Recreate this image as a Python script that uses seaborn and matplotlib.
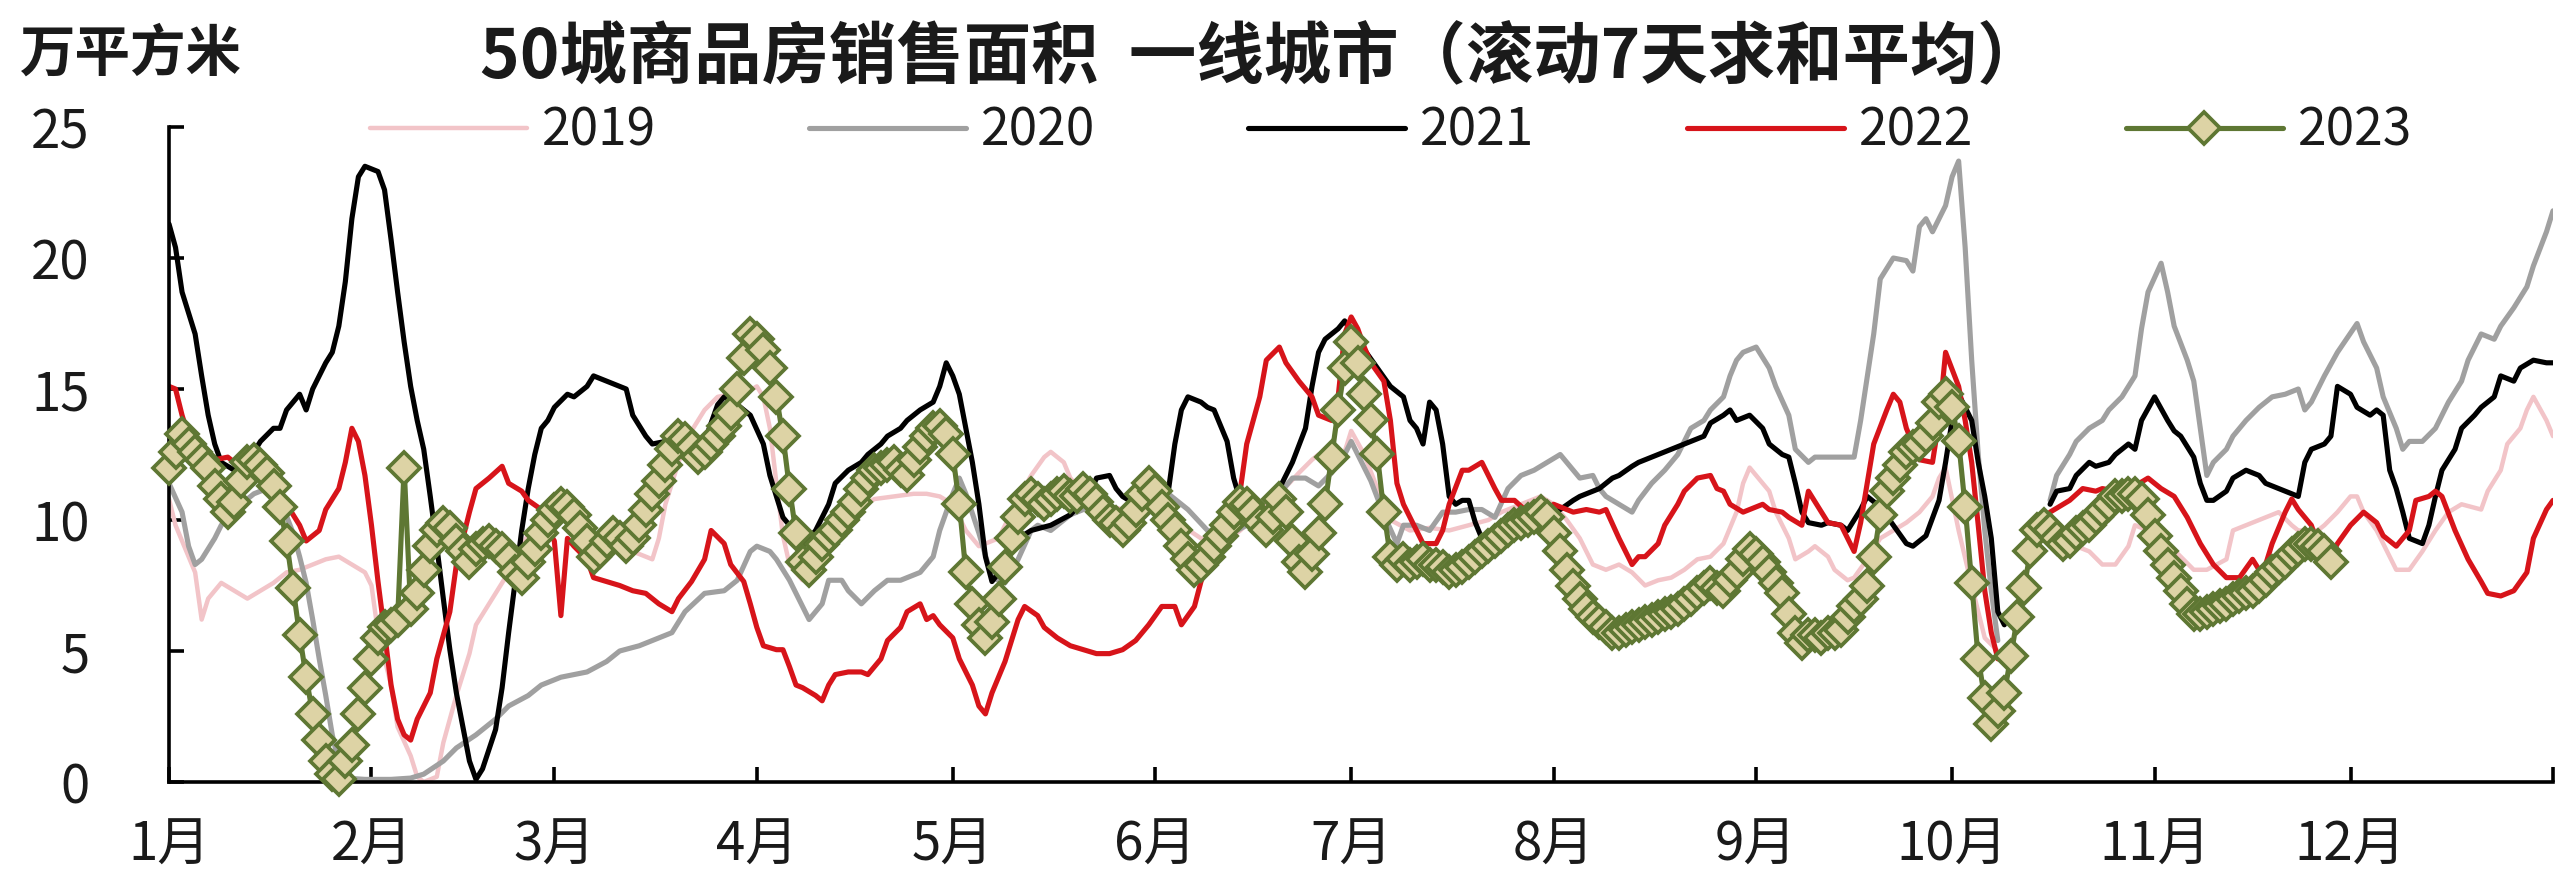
import numpy as np
import pandas as pd
import matplotlib
matplotlib.use("Agg")
import matplotlib.pyplot as plt
import seaborn as sns
from matplotlib.lines import Line2D

# ---------------- data (day of year, 0 = Jan 1) ----------------
GAP = np.nan

days_2019 = [0, 1, 4, 5, 6, 8, 10, 12, 14, 16, 18, 20, 22, 24, 26, 28, 30, 31, 32, 34, 35, 37, 38, 39, 41, 42, 44, 46, 47, 49,
             50, 52, 54, 56, 58, 60, 62, 64, 66, 68, 70, 72, 74, 75, 76, 78, 80, 82, 84, 86, 88, 90, 91, 92, 93, 94, 95, 97, 98,
             100, 102, 104, 106, 108, 111, 114, 116, 118, 120, 122, 124, 127, 130, 132, 134, 135, 137, 138, 140, 143, 146, 149,
             152, 155, 158, 161, 164, 167, 170, 173, 175, 176, 178, 180, 181, 183, 185, 187, 190, 193, 196, 199, 202, 204, 208,
             210, 212, 214, 216, 218, 220, 222, 224, 226, 228, 230, 232, 234, 236, 238, 240, 241, 242, 243, 245, 246, 248, 249,
             251, 252, 254, 255, 257, 258, 260, 262, 264, 266, 268, 270, 271, 272, 274, 276, 278, 280, 284,
             288, 290, 292, 294, 296, 298, 300, 301, 303, 306, 308, 310, 312, 315, 316, 318, 319, 321, 323, 325, 326, 329, 330,
             332, 334, 335, 336, 338, 340, 341, 343, 345, 347, 349, 351, 354, 355, 357, 358, 360, 361, 362, 364, 365]
vals_2019 = [10.8, 9.8, 8.0, 6.2, 7.0, 7.6, 7.3, 7.0, 7.3, 7.6, 8.0, 8.1, 8.3, 8.5, 8.6, 8.3, 8.0, 7.5, 5.7, 3.7, 2.1, 1.0, 0.2, 0.0, 0.2, 1.5, 3.3, 4.9, 6.0, 6.8,
             7.2, 8.0, 9.0, 9.9, 10.2, 10.3, 10.0, 9.5, 9.2, 9.0, 8.9, 8.7, 8.5, 9.3, 10.6, 12.2, 13.4, 14.2, 14.7, 14.8, 14.8, 15.1, 14.7, 13.5, 11.4, 9.4, 8.3, 7.7, 8.1,
             8.8, 9.4, 10.0, 10.5, 10.8, 10.9, 11.0, 11.0, 10.9, 10.6, 9.6, 9.0, 9.3, 10.8, 11.7, 12.4, 12.6, 12.2, 11.6, 11.0, 10.6, 10.4, 10.5,
             10.3, 9.8, 9.3, 9.0, 9.6, 10.3, 11.0, 11.8, 12.3, 12.5, 12.0, 12.6, 13.4, 12.5, 11.2, 10.0, 9.6, 9.7, 9.6, 9.8, 10.0, 10.3, 10.7,
             10.9, 10.6, 10.0, 9.3, 8.3, 8.1, 8.3, 8.0, 7.5, 7.7, 7.8, 8.1, 8.5, 8.6, 9.1, 10.3, 11.4, 12.0, 11.7, 11.1, 10.3, 9.3, 8.5,
             8.8, 9.0, 8.6, 8.1, 7.7, 7.8, 8.5, 9.3, 9.6, 9.9, 10.3, 10.9, 11.6, 12.0, 9.6, 7.5, 5.5, 5.0, GAP,
             9.0, 9.3, 9.0, 8.8, 8.3, 8.3, 9.0, 9.8, 9.6, 9.1, 8.6, 8.1, 8.1, 8.5, 9.6, 9.8, 9.9, 10.1, 10.3, 9.8, 9.6, 9.6, 9.8,
             10.3, 10.9, 10.9, 10.3, 9.6, 8.6, 8.1, 8.1, 8.8, 9.6, 10.3, 10.6, 10.4, 11.1, 11.9, 12.9, 13.5, 14.2, 14.7, 13.8, 13.2]

days_2020 = [0, 2, 3, 4, 5, 7, 8, 9, 11, 13, 15, 17, 19, 20, 21, 22, 23, 24, 25, 26, 27, 30, 34, 37, 39, 42, 44, 47, 50, 52,
             55, 57, 60, 62, 64, 67, 69, 72, 74, 77, 79, 82, 85, 87, 89, 90, 92, 93, 95, 97, 98, 100, 101, 103, 104, 106, 108,
             110, 112, 115, 117, 118, 120, 121, 122, 124, 126, 128, 130, 132, 133, 135, 138, 141, 144, 147, 150, 153, 156, 159,
             162, 165, 168, 170, 172, 174, 176, 178, 180, 181, 182, 184, 186, 188, 189, 191, 193, 195, 197, 199, 201, 203, 205,
             207, 209, 211, 213, 215, 216, 218, 219, 220, 222, 224, 225, 227, 229, 231, 233, 235, 236, 238, 239, 240, 241, 243,
             245, 246, 248, 249, 251, 252, 254, 256, 258, 259, 261, 262, 264, 266, 267, 268, 269, 270, 272, 273, 274, 275, 276,
             277, 278, 279, 280, 284,
             288, 289, 291, 292, 294, 296, 297, 299, 300, 301, 302, 303, 305, 306, 307, 309, 310, 311, 312, 313, 315, 316, 318,
             320, 322, 324, 326, 327, 328, 330, 332, 335, 336, 338, 339, 341, 342, 343, 345, 347, 349, 351, 352, 354, 356, 357,
             359, 361, 362, 364, 365]
vals_2020 = [11.4, 10.3, 9.0, 8.3, 8.5, 9.3, 9.8, 10.1, 10.6, 11.0, 11.2, 10.8, 9.5, 8.6, 7.6, 6.2, 4.7, 3.3, 1.8, 0.7, 0.15, 0.1, 0.1, 0.15, 0.3, 0.8, 1.3, 1.8, 2.4, 2.9,
             3.3, 3.7, 4.0, 4.1, 4.2, 4.6, 5.0, 5.2, 5.4, 5.7, 6.5, 7.2, 7.3, 7.7, 8.8, 9.0, 8.8, 8.5, 7.7, 6.7, 6.2, 6.8, 7.7, 7.7, 7.3, 6.8, 7.3,
             7.7, 7.7, 8.0, 8.6, 9.6, 11.0, 11.6, 11.0, 9.5, 7.8, 7.6, 8.5, 9.6, 9.8, 9.6, 10.2, 10.5, 10.1, 10.3, 11.1, 11.0, 10.4, 9.6,
             9.4, 9.8, 10.3, 11.0, 11.6, 11.6, 11.3, 11.8, 12.5, 13.0, 12.5, 11.5, 10.2, 9.1, 9.8, 9.8, 9.6, 10.3, 10.3, 10.4, 10.4, 10.1, 11.2,
             11.7, 11.9, 12.2, 12.5, 11.9, 11.6, 11.7, 11.2, 10.9, 10.6, 10.3, 10.75, 11.4, 11.9, 12.5, 13.5, 13.8, 14.2, 14.7, 15.5, 16.1, 16.4, 16.6,
             15.8, 15.1, 14.0, 12.7, 12.2, 12.4, 12.4, 12.4, 12.4, 13.8, 17.1, 19.2, 20.0, 19.9, 19.5, 21.2, 21.5, 21.0, 22.0, 23.1, 23.7, 20.4, 16.1,
             12.5, 9.6, 7.3, 5.4, GAP,
             10.75, 11.7, 12.5, 13.0, 13.5, 13.8, 14.2, 14.7, 15.1, 15.5, 17.3, 18.7, 19.8, 18.7, 17.4, 16.1, 15.3, 13.5, 11.7, 12.2, 12.7, 13.2, 13.8,
             14.3, 14.7, 14.8, 15.0, 14.2, 14.5, 15.5, 16.4, 17.5, 16.8, 15.8, 14.7, 13.5, 12.7, 13.0, 13.0, 13.5, 14.5, 15.3, 16.1, 17.1, 16.9, 17.4,
             18.1, 18.9, 19.7, 21.0, 21.8]

days_2021 = [0, 1, 2, 4, 5, 6, 7, 8, 10, 12, 14, 16, 17, 18, 20, 21, 22, 24, 25, 26, 27, 28, 29, 30, 32, 33, 34, 35, 36, 37,
             38, 39, 40, 41, 42, 43, 44, 45, 46, 47, 48, 50, 51, 52, 53, 54, 55, 56, 57, 58, 59, 61, 62, 64, 65, 67, 68, 70, 71,
             73, 74, 76, 78, 80, 82, 83, 84, 85, 87, 89, 91, 92, 93, 94, 95, 97, 99, 101, 102, 104, 106, 107, 109, 110, 112, 113,
             115, 117, 118, 119, 120, 121, 122, 123, 124, 125, 126, 128, 130, 132, 135, 138, 141, 142, 144, 145, 146, 147, 149,
             151, 153, 154, 155, 156, 158, 159, 160, 162, 163, 164, 166, 168, 170, 172, 174, 175, 176, 177, 179, 180, 181, 183,
             185, 187, 189, 190, 191, 192, 193, 194, 195, 196, 197, 198, 199, 200, 201, 203, 205, 207, 209, 211, 213, 215, 216,
             218, 219, 221, 222, 224, 225, 227, 228, 230, 232, 233, 235, 236, 238, 239, 240, 242, 244, 245, 247, 248, 249, 250,
             251, 253, 254, 256, 257, 259, 260, 262, 264, 266, 267, 269, 271, 272, 273, 274, 276, 277, 278, 279, 280, 281, 284,
             288, 289, 291, 292, 294, 295, 297, 298, 300, 301, 302, 304, 306, 307, 308, 310, 311, 312, 313, 315, 316, 318, 320,
             321, 323, 325, 326, 327, 328, 330, 331, 332, 334, 335, 337, 338, 339, 340, 341, 342, 343, 344, 345, 346, 347, 348,
             350, 351, 353, 354, 356, 357, 359, 360, 362, 364, 365]
vals_2021 = [21.3, 20.4, 18.7, 17.1, 15.5, 14.0, 12.9, 12.2, 11.9, 12.2, 13.0, 13.5, 13.5, 14.2, 14.8, 14.2, 15.0, 16.0, 16.4, 17.4, 19.1, 21.5, 23.1, 23.5, 23.3, 22.6, 20.7, 18.7, 16.8, 15.1,
             13.8, 12.7, 10.9, 9.0, 7.0, 5.05, 3.4, 2.1, 0.8, 0.1, 0.5, 2.0, 3.6, 5.7, 7.65, 9.6, 11.2, 12.5, 13.5, 13.8, 14.3, 14.8, 14.7, 15.1, 15.5, 15.3, 15.2, 15.0, 14.0,
             13.2, 12.9, 13.0, 12.8, 12.6, 13.0, 13.7, 14.4, 14.7, 14.4, 14.0, 12.9, 11.7, 10.9, 10.1, 9.8, 9.0, 9.6, 10.6, 11.4, 11.9, 12.2, 12.5, 12.9, 13.2, 13.5, 13.8,
             14.2, 14.5, 15.1, 16.0, 15.5, 14.8, 13.5, 12.2, 10.6, 8.6, 7.65, 8.3, 9.3, 9.6, 9.8, 10.2, 11.0, 11.6, 11.7, 11.2, 10.9, 10.75, 10.5,
             10.6, 11.1, 12.9, 14.2, 14.7, 14.5, 14.3, 14.2, 13.0, 11.6, 10.75, 10.5, 10.3, 11.2, 12.2, 13.5, 15.1, 16.4, 16.9, 17.3, 17.6, 17.2, 16.5,
             15.8, 15.1, 14.7, 13.8, 13.5, 12.9, 14.5, 14.2, 12.9, 10.9, 10.6, 10.75, 10.75, 9.9, 9.3, 9.2, 9.4, 9.7, 9.9, 10.1, 10.4, 10.75, 10.9,
             11.1, 11.2, 11.6, 11.7, 12.05, 12.2, 12.4, 12.5, 12.7, 12.9, 13.0, 13.2, 13.7, 14.0, 14.2, 13.8, 14.0, 13.5, 12.9, 12.5, 12.4, 11.4, 10.3,
             9.9, 9.8, 9.9, 9.8, 9.6, 10.4, 10.9, 10.5, 9.8, 9.1, 9.0, 9.4, 10.75, 12.2, 13.8, 14.8, 13.8, 12.2, 10.9, 9.3, 6.5, 6.0, GAP,
             10.6, 11.1, 11.2, 11.7, 12.2, 12.05, 12.2, 12.5, 12.9, 12.7, 13.8, 14.7, 13.8, 13.4, 13.2, 12.4, 11.4, 10.75, 10.75, 11.1, 11.6, 11.9, 11.7,
             11.4, 11.2, 11.0, 10.9, 12.2, 12.7, 12.9, 13.2, 15.1, 14.8, 14.3, 14.0, 14.2, 14.0, 11.9, 11.2, 10.3, 9.3, 9.2, 9.1, 9.8, 10.9, 11.9,
             12.7, 13.5, 14.0, 14.3, 14.7, 15.5, 15.3, 15.8, 16.1, 16.0, 16.0]

days_2022 = [0, 1, 2, 3, 5, 7, 9, 10, 12, 14, 16, 18, 20, 21, 23, 24, 26, 27, 28, 29, 30, 31, 32, 33, 34, 35, 36, 37, 38, 40,
             41, 43, 44, 46, 47, 49, 51, 52, 54, 55, 57, 58, 59, 60, 61, 62, 64, 65, 67, 69, 71, 73, 75, 77, 78, 80, 82, 83, 85,
             86, 88, 89, 90, 91, 93, 94, 95, 96, 97, 99, 100, 101, 102, 104, 106, 107, 109, 110, 112, 113, 115, 116, 117, 118,
             120, 121, 123, 124, 125, 126, 128, 130, 131, 133, 134, 136, 138, 140, 142, 144, 146, 148, 150, 152, 154, 155, 157,
             158, 160, 162, 164, 165, 167, 168, 170, 171, 173, 175, 176, 178, 179, 180, 181, 182, 183, 184, 186, 187, 188, 189,
             190, 191, 192, 194, 195, 196, 198, 199, 201, 203, 204, 206, 208, 209, 211, 212, 214, 215, 217, 219, 220, 222, 223,
             224, 225, 226, 228, 229, 231, 232, 234, 236, 237, 238, 239, 241, 242, 244, 245, 247, 248, 250, 251, 253, 254, 256,
             257, 258, 259, 260, 261, 263, 264, 265, 266, 268, 270, 271, 272, 274, 275, 276, 277, 278, 279, 280, 284,
             288, 290, 291, 293, 295, 296, 298, 299, 301, 303, 305, 307, 309, 311, 313, 315, 317, 319, 320, 321, 322, 324, 325,
             326, 328, 329, 331, 332, 334, 336, 338, 339, 341, 343, 344, 346, 347, 348, 350, 352, 354, 355, 357, 359, 361, 362,
             364, 365]
vals_2022 = [15.1, 15.0, 14.0, 13.2, 12.6, 12.3, 12.4, 12.2, 12.1, 12.0, 11.6, 10.6, 9.8, 9.2, 9.6, 10.4, 11.2, 12.2, 13.5, 13.0, 11.7, 9.8, 7.65, 5.7, 3.7, 2.4, 1.8, 1.6, 2.4, 3.4,
             4.7, 6.5, 8.3, 10.3, 11.2, 11.6, 12.05, 11.4, 11.1, 10.75, 10.4, 9.6, 9.2, 6.35, 9.3, 9.0, 8.5, 7.8, 7.65, 7.5, 7.3, 7.2, 6.8, 6.5, 7.0, 7.65, 8.5, 9.6, 9.1,
             8.3, 7.65, 6.8, 5.9, 5.2, 5.05, 5.05, 4.4, 3.7, 3.6, 3.3, 3.1, 3.7, 4.1, 4.2, 4.2, 4.1, 4.7, 5.4, 5.9, 6.5, 6.8, 6.2, 6.35, 6.0,
             5.5, 4.7, 3.7, 2.9, 2.6, 3.4, 4.6, 6.2, 6.7, 6.35, 5.9, 5.5, 5.2, 5.05, 4.9, 4.9, 5.05, 5.4, 6.0, 6.7, 6.7, 6.0, 6.7,
             7.65, 9.0, 10.6, 11.1, 12.9, 14.7, 16.1, 16.6, 16.0, 15.3, 14.7, 14.0, 13.8, 14.7, 17.1, 17.75, 17.3, 16.6, 16.0, 15.3, 13.8, 11.4, 10.6,
             10.1, 9.6, 9.1, 9.1, 9.6, 10.6, 11.9, 11.9, 12.2, 11.2, 10.75, 10.75, 10.3, 10.3, 10.4, 10.6, 10.4, 10.3, 10.4, 10.3, 10.4, 9.3, 8.8,
             8.3, 8.6, 8.6, 9.1, 9.8, 10.6, 11.1, 11.6, 11.7, 11.2, 11.1, 10.6, 10.3, 10.4, 10.6, 10.4, 10.3, 10.1, 9.8, 11.1, 10.3, 9.9, 9.8,
             9.3, 8.8, 9.9, 11.4, 12.9, 14.2, 14.8, 14.5, 13.5, 12.3, 12.2, 13.8, 16.4, 15.1, 13.8, 12.2, 9.8, 7.3, 5.7, 4.7, GAP,
             10.3, 10.6, 10.75, 11.2, 11.1, 11.2, 11.1, 11.2, 11.3, 11.6, 11.2, 10.9, 10.1, 9.1, 8.3, 7.8, 7.8, 8.5, 8.1, 8.3, 9.1, 10.3, 10.8,
             10.4, 9.8, 9.1, 8.6, 9.1, 9.8, 10.3, 9.9, 9.4, 9.0, 9.6, 10.75, 10.9, 11.1, 10.9, 9.6, 8.5, 7.65, 7.2, 7.1, 7.3, 8.0, 9.3,
             10.4, 10.75]

vals_2023 = [12.0, 12.6, 13.3, 12.9, 12.6, 12.3, 12.0, 11.3, 10.8, 10.3,
             10.7, 11.5, 12.2, 12.3, 12.1, 11.8, 11.3, 10.5, 9.2, 7.4,
             5.6, 4.0, 2.6, 1.6, 0.8, 0.3, 0.1, 0.8, 1.4, 2.6,
             3.6, 4.7, 5.5, 5.9, 6.0, 6.2, 12.0, 6.6, 7.2, 8.1,
             9.0, 9.6, 9.9, 9.7, 9.2, 8.8, 8.4, 8.9, 9.1, 9.2,
             9.0, 8.9, 8.5, 8.0, 7.8, 8.4, 8.9, 9.5, 10.0, 10.4,
             10.6, 10.5, 10.2, 9.7, 9.2, 8.6, 8.8, 9.2, 9.5, 9.3,
             9.0, 9.3, 9.8, 10.4, 11.0, 11.5, 12.1, 12.7, 13.2, 13.1,
             12.8, 12.4, 12.6, 12.9, 13.2, 13.6, 14.1, 15.0, 16.2, 17.1,
             16.9, 16.5, 15.8, 14.7, 13.2, 11.2, 9.5, 8.4, 8.1, 8.6,
             9.1, 9.4, 9.6, 10.0, 10.3, 10.7, 11.2, 11.6, 11.9, 12.0,
             12.1, 12.2, 11.9, 11.7, 12.3, 12.8, 13.2, 13.5, 13.6, 13.3,
             12.5, 10.6, 8.0, 6.8, 6.0, 5.5, 6.1, 7.0, 8.2, 9.3,
             10.1, 10.8, 11.0, 10.8, 10.6, 10.8, 11.0, 11.1, 10.9, 10.9,
             11.2, 11.0, 10.7, 10.3, 10.0, 9.9, 9.6, 9.9, 10.4, 11.0,
             11.4, 11.1, 10.5, 10.0, 9.6, 9.0, 8.5, 8.1, 8.3, 8.6,
             9.0, 9.4, 9.8, 10.3, 10.7, 10.6, 10.3, 9.9, 9.6, 10.1,
             10.8, 10.3, 9.2, 8.4, 8.0, 8.7, 9.5, 10.6, 12.4, 14.2,
             15.8, 16.8, 16.0, 14.8, 13.8, 12.5, 10.3, 8.6, 8.3, 8.5,
             8.3, 8.4, 8.5, 8.3, 8.3, 8.2, 8.0, 8.1, 8.2, 8.4,
             8.6, 8.8, 9.0, 9.2, 9.4, 9.6, 9.8, 9.9, 10.0, 10.1,
             10.3, 10.1, 9.5, 8.8, 8.1, 7.5, 7.0, 6.6, 6.3, 6.1,
             5.9, 5.7, 5.7, 5.8, 5.9, 6.0, 6.1, 6.2, 6.3, 6.4,
             6.5, 6.6, 6.8, 7.0, 7.2, 7.4, 7.6, 7.4, 7.3, 7.7,
             8.0, 8.5, 8.9, 8.7, 8.4, 8.0, 7.6, 7.2, 6.4, 5.7,
             5.3, 5.6, 5.6, 5.5, 5.7, 5.7, 5.8, 6.3, 6.7, 7.0,
             7.5, 8.6, 10.2, 11.1, 11.6, 12.1, 12.6, 12.8, 12.9, 13.2,
             13.7, 14.5, 14.8, 14.3, 13.0, 10.5, 7.6, 4.7, 3.2, 2.2,
             2.7, 3.4, 4.8, 6.3, 7.4, 8.8, 9.6, 9.8, 9.6, 9.3,
             9.1, 9.2, 9.5, 9.7, 9.8, 10.1, 10.4, 10.6, 10.9, 10.9,
             11.0, 11.0, 10.8, 10.2, 9.4, 8.8, 8.3, 7.8, 7.3, 6.8,
             6.4, 6.4, 6.5, 6.6, 6.7, 6.8, 7.0, 7.1, 7.2, 7.3,
             7.5, 7.7, 8.0, 8.2, 8.4, 8.7, 8.9, 9.1, 9.1, 9.0,
             8.8, 8.4]
days_2023 = list(range(len(vals_2023)))

years = ["2019", "2020", "2021", "2022", "2023"]
month_starts = [0, 31, 59, 90, 120, 151, 181, 212, 243, 273, 304, 334, 365]
month_labels = ["1月", "2月", "3月", "4月", "5月", "6月", "7月", "8月", "9月", "10月", "11月", "12月", ""]
y_ticks = [0, 5, 10, 15, 20, 25]

title_text = "50城商品房销售面积  一线城市（滚动7天求和平均）"
unit_text = "万平方米"

# ---------------- style ----------------
sns.set_theme(style="white")
plt.rcParams["font.family"] = ["Noto Sans CJK SC", "DejaVu Sans"]

c19, c20, c21, c22 = "#F2C4C8", "#A0A0A0", "#000000", "#D7141A"
c23, c23_face = "#5E7733", "#DDD3A5"
LW = 3.7
LW19 = 3.2
MS, MEW = 16.5, 2.7

W, H = 2557, 871
fig = plt.figure(figsize=(W / 100, H / 100), dpi=100)
ax = fig.add_axes([169 / W, 1 - 782 / H, (2553 - 169) / W, (782 - 127) / H])


def segments(days, vals):
    d = np.asarray(days, float)
    v = np.asarray(vals, float)
    cut = np.where(np.isnan(v))[0]
    bounds = [-1] + list(cut) + [len(v)]
    for a, b in zip(bounds[:-1], bounds[1:]):
        if b - a > 1:
            yield d[a + 1:b], v[a + 1:b]


for days, vals, col, lw in [(days_2019, vals_2019, c19, LW19), (days_2020, vals_2020, c20, LW),
                            (days_2021, vals_2021, c21, LW), (days_2022, vals_2022, c22, LW)]:
    for dd, vv in segments(days, vals):
        sns.lineplot(x=dd, y=vv, ax=ax, color=col, linewidth=lw, sort=False, estimator=None)

sns.lineplot(x=days_2023, y=vals_2023, ax=ax, color=c23, linewidth=LW, sort=False, estimator=None,
             marker="D", markersize=MS, markerfacecolor=c23_face, markeredgecolor=c23,
             markeredgewidth=MEW, clip_on=False, zorder=5)

ax.set_xlim(0, 365)
ax.set_ylim(0, 25)
ax.set_xticks(month_starts)
ax.set_xticklabels(month_labels)
ax.set_yticks(y_ticks)
ax.set_yticklabels([str(t) for t in y_ticks])
ax.set_xlabel("")
ax.set_ylabel("")

for s in ["top", "right"]:
    ax.spines[s].set_visible(False)
for s in ["left", "bottom"]:
    ax.spines[s].set_visible(True)
    ax.spines[s].set_color("black")
    ax.spines[s].set_linewidth(2.6)

ax.tick_params(axis="both", which="major", direction="in", length=11, width=2.6,
               color="black", labelcolor="#1a1a1a", labelsize=38)
ax.tick_params(axis="y", pad=57, left=True)
ax.tick_params(axis="x", pad=26, bottom=True)
ax.grid(False)

handles = [Line2D([], [], color=c19, lw=LW19), Line2D([], [], color=c20, lw=LW),
           Line2D([], [], color=c21, lw=LW), Line2D([], [], color=c22, lw=LW),
           Line2D([], [], color=c23, lw=LW, marker="D", markersize=MS,
                  markerfacecolor=c23_face, markeredgecolor=c23, markeredgewidth=MEW)]
leg = fig.legend(handles=handles, labels=years, loc="center left",
                 bbox_to_anchor=(370 / W, 1 - 131 / H), ncol=5, frameon=False,
                 fontsize=37, handlelength=3.05, handletextpad=0.3, columnspacing=2.97,
                 borderpad=0, borderaxespad=0, numpoints=1)
for t in leg.get_texts():
    t.set_color("#1a1a1a")

fig.text(1262 / W, 1 - 58 / H, title_text, ha="center", va="center",
         fontsize=48.5, fontweight="bold", color="#1a1a1a")
fig.text(20 / W, 1 - 55 / H, unit_text, ha="left", va="center",
         fontsize=40, fontweight="bold", color="#1a1a1a")

fig.savefig("out.png", dpi=100)
